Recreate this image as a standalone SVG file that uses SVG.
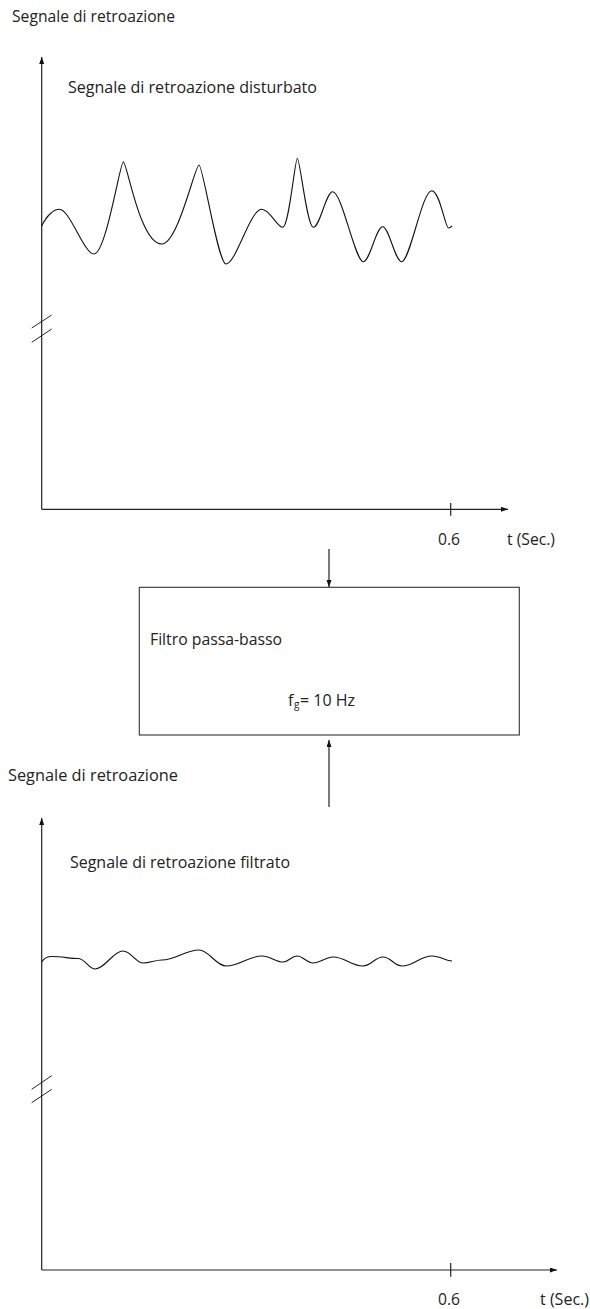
<svg xmlns="http://www.w3.org/2000/svg" width="590" height="1309" viewBox="0 0 590 1309">
<style>
  .ax{stroke:#222;stroke-width:1.2;fill:none}
  .wave{stroke:#111;stroke-width:1.1;fill:none}
  .brk{stroke:#222;stroke-width:1;fill:none}
  .t{font-family:"Open Sans","Liberation Sans",sans-serif;font-size:16px;fill:#222}
  .box{stroke:#333;stroke-width:1.1;fill:#fff}
</style>
<defs>
  <marker id="ah" markerUnits="userSpaceOnUse" markerWidth="8" markerHeight="6" refX="7" refY="2.5" orient="auto">
    <path d="M0,0 L7,2.5 L0,5 z" fill="#111"/>
  </marker>
</defs>
<rect width="590" height="1309" fill="#fff"/>

<g id="chart-top">
  <text class="t" x="12" y="22" textLength="163" lengthAdjust="spacingAndGlyphs">Segnale di retroazione</text>
  <line class="ax" x1="41.7" y1="509.3" x2="41.7" y2="57" marker-end="url(#ah)"/>
  <line class="ax" x1="41.7" y1="509.3" x2="508" y2="509.3" marker-end="url(#ah)"/>
  <line class="ax" x1="450.7" y1="503" x2="450.7" y2="515.7"/>
  <line class="brk" x1="31.7" y1="328" x2="51.7" y2="315"/>
  <line class="brk" x1="31.7" y1="342.3" x2="51.7" y2="329"/>
  <text class="t" x="68" y="93" textLength="249" lengthAdjust="spacingAndGlyphs">Segnale di retroazione disturbato</text>
  <path class="wave" d="M41.7,226 C47,215 54,209.3 59.3,209.3 C70,209.3 84,254 94,254 C106,254 120,162 123.3,161.7 C127,162 140,244 161.7,244 C178,244 195,165 199,165 C203,165 218,264 226,264 C236,264 250,209.3 261.7,209.3 C270,209.3 277,227.3 282.7,227.3 C289,227.3 295,158.3 297.3,158.3 C300,158.3 307,227.3 313.3,227.3 C320,227.3 326,191.7 332.7,191.7 C342,191.7 355,261.7 363.3,261.7 C370,261.7 376,226.7 382.7,226.7 C389,226.7 395,261.7 401.7,261.7 C410,261.7 422,190.7 431.7,190.7 C440,190.7 445,228 448.5,228 C450,228 451,227 452,226"/>
  <text class="t" x="438" y="545" textLength="22" lengthAdjust="spacingAndGlyphs">0.6</text>
  <text class="t" x="507" y="545" textLength="48" lengthAdjust="spacingAndGlyphs">t (Sec.)</text>
</g>

<g id="filter-box">
  <rect class="box" x="139.3" y="587.3" width="380" height="147.7"/>
  <text class="t" x="150" y="645" textLength="132" lengthAdjust="spacingAndGlyphs">Filtro passa-basso</text>
  <text class="t" x="288" y="706">f<tspan x="294" y="708" font-size="10">g</tspan><tspan x="300" y="706">= 10 Hz</tspan></text>
</g>

<g id="connectors">
  <line class="ax" x1="329" y1="549" x2="329" y2="587" marker-end="url(#ah)"/>
  <line class="ax" x1="329" y1="807" x2="329" y2="740" marker-end="url(#ah)"/>
</g>

<g id="chart-bottom">
  <text class="t" x="8" y="781" textLength="170" lengthAdjust="spacingAndGlyphs">Segnale di retroazione</text>
  <line class="ax" x1="41.7" y1="1270" x2="41.7" y2="818" marker-end="url(#ah)"/>
  <line class="ax" x1="41.7" y1="1270" x2="557" y2="1270" marker-end="url(#ah)"/>
  <line class="ax" x1="450.7" y1="1263" x2="450.7" y2="1276.7"/>
  <line class="brk" x1="31.7" y1="1089.3" x2="51.7" y2="1075.7"/>
  <line class="brk" x1="31.7" y1="1102.7" x2="51.7" y2="1089.3"/>
  <text class="t" x="70" y="868" textLength="220" lengthAdjust="spacingAndGlyphs">Segnale di retroazione filtrato</text>
  <path class="wave" d="M41.7,962 C44,958 48,956.5 52,956.5 C62,956.5 70,958.5 78,958.5 C85,958.5 89,969 95,969 C105,969 113,951 123,951 C131,951 136,963 143,963 C150,963 155,960 162,960 C175,960 186,950 199,950 C209,950 216,966 226,966 C240,966 248,956 262,956 C270,956 276,962 283,962 C289,962 291,956 297,956 C303,956 307,963 313,963 C320,963 326,957 333,957 C345,957 351,966 363,966 C371,966 375,957 383,957 C391,957 394,966 402,966 C414,966 420,956 432,956 C440,956 446,961 452,961"/>
  <text class="t" x="438" y="1305" textLength="22" lengthAdjust="spacingAndGlyphs">0.6</text>
  <text class="t" x="540" y="1305" textLength="49" lengthAdjust="spacingAndGlyphs">t (Sec.)</text>
</g>
</svg>
